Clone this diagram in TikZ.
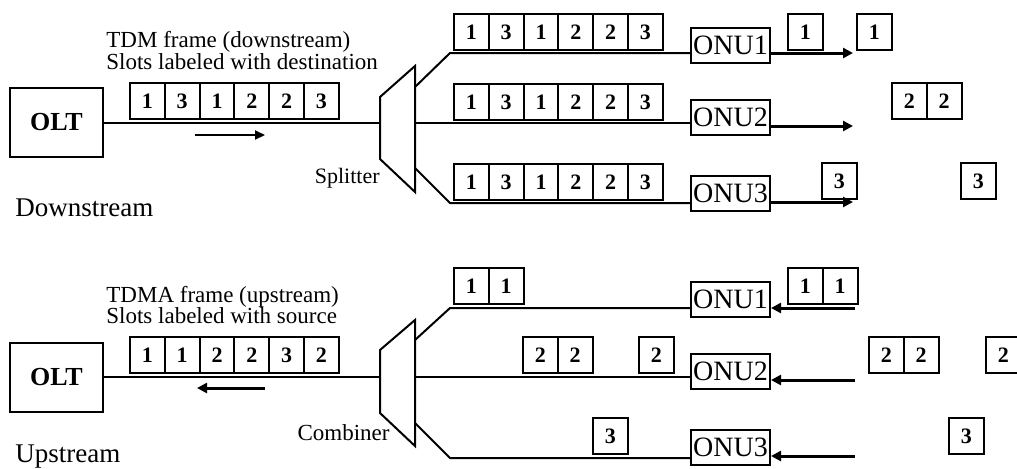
\documentclass[tikz,border=0pt]{standalone}
\usepackage{fontspec}
\setmainfont{Liberation Serif}
\usetikzlibrary{arrows.meta,calc}
\newcommand\slotrow[4]{\foreach \d [count=\i] in {#4} {\node[slot] (#1-\i) at ({#2+(\i-1)*34.8},#3) {\d};}}
\begin{document}
\begin{tikzpicture}[x=0.5pt,y=-0.5pt,
  line/.style={line width=1pt},
  slot/.style={draw, line width=1pt, minimum width=17.4pt, minimum height=18pt, inner sep=0pt, anchor=north west, font=\bfseries\fontsize{11}{11}\selectfont},
  unit/.style={draw, line width=1pt, minimum width=39.5pt, minimum height=17.5pt, inner sep=0pt, font=\fontsize{14}{14}\selectfont},
  olt/.style={draw, line width=1pt, minimum width=46.5pt, minimum height=34.5pt, inner sep=0pt, font=\bfseries\fontsize{13}{13}\selectfont},
  lbl/.style={inner sep=0pt, font=\fontsize{11.5}{11}\selectfont, align=left},
  big/.style={inner sep=0pt, font=\fontsize{13.5}{13.5}\selectfont},
  arr/.style={line width=1.5pt, -{Triangle[length=5pt,width=5pt]}},
  thinarr/.style={line width=1pt, -{Triangle[length=5pt,width=4.5pt]}}
]
\useasboundingbox (0,0) rectangle (1017,468);
\clip (0,0) rectangle (1017,468);

% ---------------- Downstream ----------------
\node[olt] (olt1) at (56.5,122.5) {OLT};
\slotrow{df}{129}{82}{1,3,1,2,2,3}
\node[lbl, anchor=base west] (t1) at (106,47) {TDM frame (downstream)};
\node[lbl, anchor=base west] (t2) at (106,69) {Slots labeled with destination};
\coordinate (da1) at (195,135);
\coordinate (da2) at (265,135);
\draw[thinarr] (da1) -- (da2);
\coordinate (spl-lt) at (380,97);
\coordinate (spl-lb) at (380,159);
\coordinate (spl-rt) at (415,66);
\coordinate (spl-rb) at (415,192);
\draw[line] (spl-lt) -- (spl-rt) -- (spl-rb) -- (spl-lb) -- cycle;
\draw[line] (olt1.east) -- (olt1.east -| spl-lt);
\node[inner sep=0pt, font=\fontsize{11}{11}\selectfont, anchor=base east] (splt) at (380,183) {Splitter};
\node[big, anchor=base west] (down) at (15,216) {Downstream};

\node[unit] (onu1) at (730.5,45) {ONU1};
\node[unit] (onu2) at (730.5,117) {ONU2};
\node[unit] (onu3) at (730.5,193.5) {ONU3};

\coordinate (s1a) at (415,87);
\coordinate (s1b) at (450,53);
\draw[line] (s1a) -- (s1b) -- (s1b -| onu1.west);
\coordinate (s2a) at (415,123);
\draw[line] (s2a) -- (s2a -| onu2.west);
\coordinate (s3a) at (415,168);
\coordinate (s3b) at (450,203);
\draw[line] (s3a) -- (s3b) -- (s3b -| onu3.west);

\slotrow{b1}{453}{13}{1,3,1,2,2,3}
\slotrow{b2}{453}{83}{1,3,1,2,2,3}
\slotrow{b3}{453}{163}{1,3,1,2,2,3}

\coordinate (o1) at (853,53);
\coordinate (o2) at (853,126);
\coordinate (o3) at (853,202);
\draw[arr] (o1 -| onu1.east) -- (o1);
\draw[arr] (o2 -| onu2.east) -- (o2);
\draw[arr] (o3 -| onu3.east) -- (o3);

\slotrow{r1}{787}{13}{1}
\slotrow{r1b}{856}{13}{1}
\slotrow{r2}{891}{82}{2,2}
\slotrow{r3}{821}{162}{3}
\slotrow{r3b}{960}{162}{3}

% ---------------- Upstream ----------------
\node[olt] (olt2) at (56.5,377) {OLT};
\slotrow{uf}{129}{336}{1,1,2,2,3,2}
\node[lbl, anchor=base west] (t3) at (106,302) {TDMA frame (upstream)};
\node[lbl, anchor=base west] (t4) at (106,323) {Slots labeled with source};
\coordinate (ua1) at (265,388);
\coordinate (ua2) at (197,388);
\draw[arr] (ua1) -- (ua2);
\coordinate (cmb-lt) at (380,350);
\coordinate (cmb-lb) at (380,413);
\coordinate (cmb-rt) at (415,320);
\coordinate (cmb-rb) at (415,446);
\draw[line] (cmb-lt) -- (cmb-rt) -- (cmb-rb) -- (cmb-lb) -- cycle;
\draw[line] (olt2.east) -- (olt2.east -| cmb-lt);
\node[inner sep=0pt, font=\fontsize{11.5}{11}\selectfont, anchor=base east] (cmbt) at (390,440) {Combiner};
\node[big, anchor=base west] (up) at (15,462) {Upstream};

\node[unit] (onu4) at (730.5,299.5) {ONU1};
\node[unit] (onu5) at (730.5,371) {ONU2};
\node[unit] (onu6) at (730.5,447.5) {ONU3};

\coordinate (u1a) at (415,340);
\coordinate (u1b) at (450,308);
\draw[line] (u1a) -- (u1b) -- (u1b -| onu4.west);
\coordinate (u2a) at (415,377);
\draw[line] (u2a) -- (u2a -| onu5.west);
\coordinate (u3a) at (415,423);
\coordinate (u3b) at (450,458);
\draw[line] (u3a) -- (u3b) -- (u3b -| onu6.west);

\slotrow{c1}{453}{267}{1,1}
\slotrow{c2}{522}{336}{2,2}
\slotrow{c2b}{638}{336}{2}
\slotrow{c3}{592}{417}{3}

\coordinate (i1) at (855,308);
\coordinate (i2) at (855,380);
\coordinate (i3) at (855,456);
\draw[arr] (i1) -- (i1 -| onu4.east);
\draw[arr] (i2) -- (i2 -| onu5.east);
\draw[arr] (i3) -- (i3 -| onu6.east);

\slotrow{v1}{787}{267}{1,1}
\slotrow{v2}{868}{336}{2,2}
\slotrow{v2b}{985}{336}{2}
\slotrow{v3}{948}{417}{3}
\end{tikzpicture}
\end{document}
